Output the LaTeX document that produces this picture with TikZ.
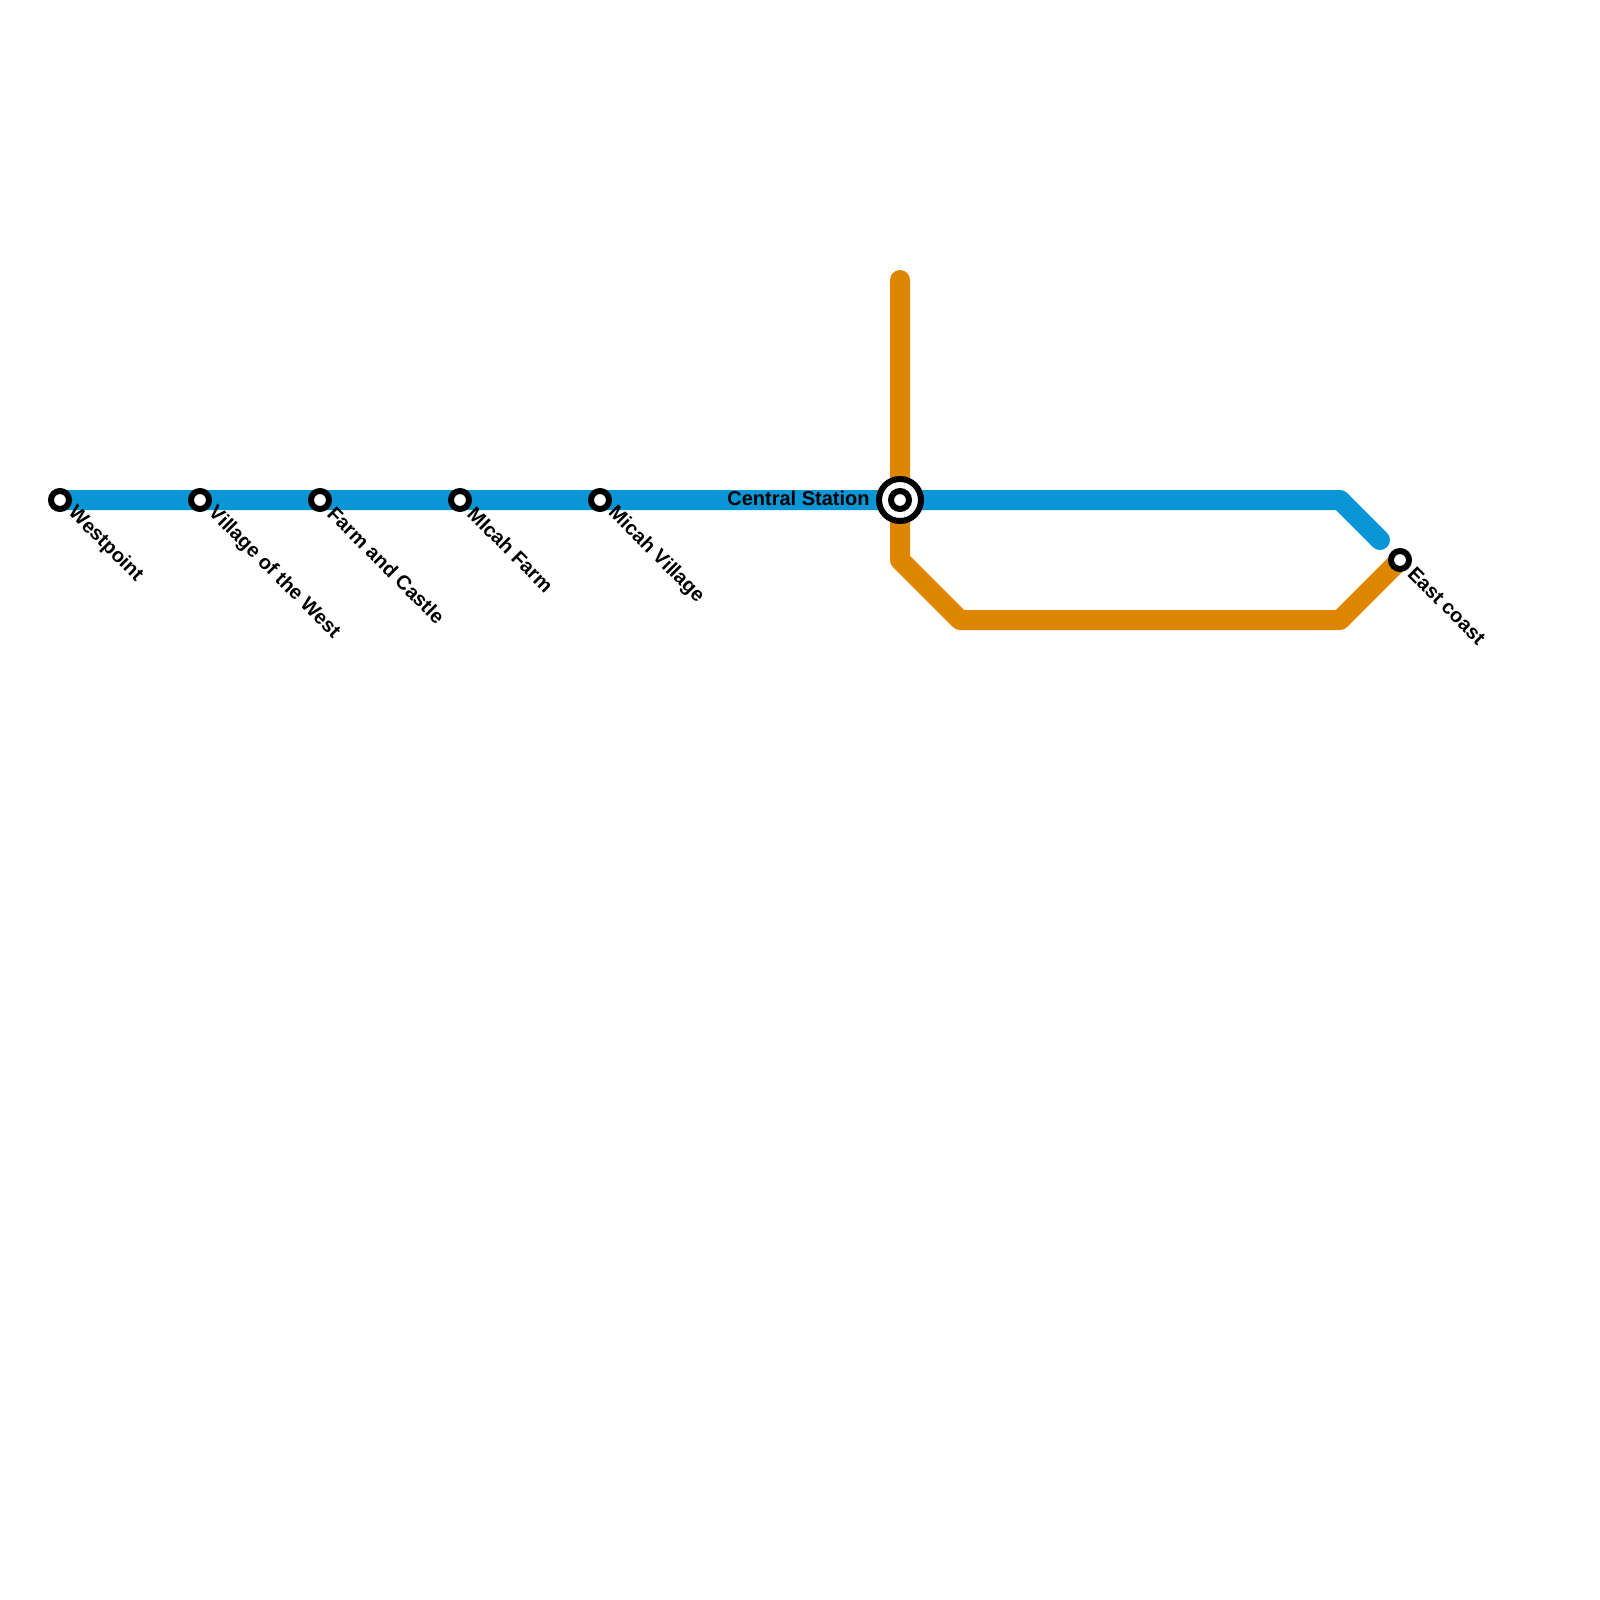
\documentclass[tikz,border=0pt]{standalone}
\usepackage{fontspec}
\setmainfont{Liberation Sans}
\definecolor{lineblue}{HTML}{0896D7}
\definecolor{lineorange}{HTML}{DF8600}
\tikzset{
  x=0.5pt,y=-0.5pt,
  metro/.style={line width=10pt,line join=round,line cap=round},
  stationmark/.style={circle,draw=black,fill=white,line width=3pt,minimum size=9pt,inner sep=0pt},
  hubring/.style={circle,draw=black,fill=white,line width=3pt,minimum size=21pt,inner sep=0pt},
  stationlabel/.style={font=\bfseries\fontsize{10}{12}\selectfont,text=black,inner sep=0pt},
  downlabel/.style={stationlabel,rotate=-45,anchor=west},
}
\begin{document}
\begin{tikzpicture}
\useasboundingbox (0,0) rectangle (1600,1600);
\coordinate (cw) at (60,500);
\coordinate (cc) at (900,500);
\coordinate (ce) at (1400,560);
\coordinate (bturn) at (1340,500);
\coordinate (bend) at (1380,540);
\coordinate (otop) at (900,280);
\coordinate (o1) at (900,560);
\coordinate (o2) at (960,620);
\coordinate (o3) at (1340,620);
\draw[metro,lineblue] (cw) -- (cc) -- (bturn) -- (bend);
\draw[metro,lineorange] (otop) -- (o1) -- (o2) -- (o3) -- (ce);
\node[stationmark] (s1) at (60,500) {};
\node[stationmark] (s2) at (200,500) {};
\node[stationmark] (s3) at (320,500) {};
\node[stationmark] (s4) at (460,500) {};
\node[stationmark] (s5) at (600,500) {};
\node[stationmark] (s7) at (1400,560) {};
\node[hubring] (s6) at (900,500) {};
\node[stationmark] (s6i) at (900,500) {};
\node[downlabel] (l1) at (71,510) {Westpoint};
\node[downlabel] (l2) at (211,510) {Village of the West};
\node[downlabel] (l3) at (331,510) {Farm and Castle};
\node[downlabel] (l4) at (471,510) {MIcah Farm};
\node[downlabel] (l5) at (611,510) {Micah Village};
\node[downlabel] (l7) at (1411,570) {East coast};
\node[stationlabel,anchor=east] (l6) at (870,498) {Central Station};
\end{tikzpicture}
\end{document}
